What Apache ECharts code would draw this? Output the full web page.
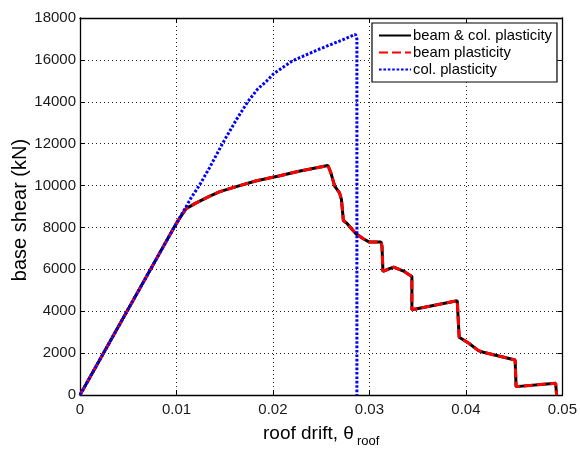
<!DOCTYPE html>
<html>
<head>
<meta charset="utf-8">
<script src="https://cdn.jsdelivr.net/npm/echarts@6/dist/echarts.min.js"></script>
<style>
  html, body { margin: 0; padding: 0; background: #fff; }
  #chart { width: 580px; height: 451px; }
</style>
</head>
<body>
<div id="chart"></div>
<script>
// Pushover curves: roof drift vs. base shear for three plasticity models
var seriesNames = ['beam & col. plasticity', 'beam plasticity', 'col. plasticity'];

var beamColDrift = [0, 0.0098, 0.0103, 0.0110, 0.0120, 0.0134, 0.0145, 0.0162, 0.0182, 0.0206, 0.0227, 0.0257,
  0.0260, 0.0264, 0.0269, 0.0271, 0.0273, 0.0277, 0.0286, 0.0294, 0.0300, 0.0312, 0.0313, 0.0314,
  0.0318, 0.0325, 0.0336, 0.0344, 0.0344, 0.0391, 0.0393, 0.0393, 0.0403, 0.0413, 0.0418, 0.0451,
  0.0452, 0.0452, 0.0493, 0.0494, 0.0494];
var beamColShear = [0, 8040, 8420, 8900, 9160, 9480, 9710, 9950, 10220, 10460, 10680, 10960,
  10610, 9970, 9650, 9330, 8330, 8180, 7700, 7450, 7300, 7300, 7100, 5900,
  5980, 6110, 5900, 5660, 4070, 4500, 4450, 2760, 2470, 2120, 2040, 1670,
  1600, 400, 560, 500, 0];

var beamDrift = [0, 0.0098, 0.0103, 0.0110, 0.0120, 0.0134, 0.0145, 0.0162, 0.0182, 0.0206, 0.0227, 0.0257,
  0.0260, 0.0264, 0.0269, 0.0271, 0.0273, 0.0277, 0.0286, 0.0294, 0.0300, 0.0312, 0.0313, 0.0314,
  0.0318, 0.0325, 0.0336, 0.0344, 0.0344, 0.0391, 0.0393, 0.0393, 0.0403, 0.0413, 0.0418, 0.0451,
  0.0452, 0.0452, 0.0493, 0.0494, 0.0494];
var beamShear = [0, 8040, 8420, 8900, 9160, 9480, 9710, 9950, 10220, 10460, 10680, 10960,
  10610, 9970, 9650, 9330, 8330, 8180, 7700, 7450, 7300, 7300, 7100, 5900,
  5980, 6110, 5900, 5660, 4070, 4500, 4450, 2760, 2470, 2120, 2040, 1670,
  1600, 400, 560, 500, 0];

var colDrift = [0, 0.0098, 0.0115, 0.0124, 0.0134, 0.0148, 0.0162, 0.0174, 0.0184, 0.0193, 0.0201,
  0.0220, 0.0248, 0.0269, 0.02855, 0.0287, 0.0287];
var colShear = [0, 8040, 9400, 10030, 10830, 12030, 13140, 14010, 14600, 14970, 15350,
  15950, 16510, 16900, 17220, 17000, 0];

var xTicks = [0, 0.01, 0.02, 0.03, 0.04, 0.05];
var yTicks = [0, 2000, 4000, 6000, 8000, 10000, 12000, 14000, 16000, 18000];

function pairs(xs, ys) {
  return xs.map(function (x, i) { return [x, ys[i]]; });
}

var FONT = 'Liberation Sans, Arial, sans-serif';
var chart = echarts.init(document.getElementById('chart'), null, { renderer: 'canvas' });

var gridTop = 18, gridBottom = 56, gridLeft = 80, gridRight = 16;

function baseAxis(extra) {
  var a = {
    type: 'value',
    axisLine: { show: true, onZero: false, lineStyle: { color: '#000', width: 1.3 } },
    axisTick: { show: true, inside: true, length: 5, lineStyle: { color: '#000', width: 1 } },
    splitLine: { show: false },
    axisLabel: { show: false }
  };
  for (var k in extra) a[k] = extra[k];
  return a;
}

var xMin = xTicks[0], xMax = xTicks[xTicks.length - 1], xInt = xTicks[1] - xTicks[0];
var yMin = yTicks[0], yMax = yTicks[yTicks.length - 1], yInt = yTicks[1] - yTicks[0];

chart.setOption({
  animation: false,
  backgroundColor: '#fff',
  grid: { left: gridLeft, right: gridRight, top: gridTop, bottom: gridBottom, containLabel: false },
  legend: {
    orient: 'vertical',
    left: 372,
    top: 23,
    padding: [5, 5, 5, 6],
    itemGap: 2,
    itemWidth: 32,
    itemHeight: 15,
    backgroundColor: '#fff',
    borderColor: '#000',
    borderWidth: 1.2,
    borderRadius: 0,
    itemStyle: { opacity: 0 },
    data: seriesNames,
    textStyle: { fontFamily: FONT, fontSize: 14.8, lineHeight: 15, color: '#000', padding: [0, 0, 0, -3] }
  },
  xAxis: [
    baseAxis({
      position: 'bottom',
      min: xMin, max: xMax, interval: xInt,
      axisLabel: {
        show: true, margin: 7, color: '#1a1a1a', fontFamily: FONT, fontSize: 15,
        formatter: function (v) { return v === 0 ? '0' : String(Math.round(v * 100) / 100); }
      },
      splitLine: { show: true, lineStyle: { color: '#222', width: 1, type: [1, 3] } }
    }),
    baseAxis({ position: 'top', min: xMin, max: xMax, interval: xInt })
  ],
  yAxis: [
    baseAxis({
      position: 'left',
      min: yMin, max: yMax, interval: yInt,
      axisLabel: {
        show: true, margin: 4, color: '#1a1a1a', fontFamily: FONT, fontSize: 15,
        formatter: function (v) { return String(v); }
      },
      splitLine: { show: true, lineStyle: { color: '#222', width: 1, type: [1, 3] } }
    }),
    baseAxis({ position: 'right', min: yMin, max: yMax, interval: yInt })
  ],
  graphic: [
    {
      type: 'text', x: 20, y: 210,
      rotation: Math.PI / 2,
      style: {
        text: 'base shear (kN)', fontFamily: FONT, fontSize: 20, fill: '#000',
        align: 'center', verticalAlign: 'middle'
      }
    },
    {
      type: 'text', x: 263, y: 424,
      style: { text: 'roof drift, \u03b8', fontFamily: FONT, fontSize: 19, fill: '#000' }
    },
    {
      type: 'text', x: 357, y: 435,
      style: { text: 'roof', fontFamily: FONT, fontSize: 13, fill: '#000' }
    }
  ],
  series: [
    {
      name: seriesNames[0], type: 'line', data: pairs(beamColDrift, beamColShear),
      showSymbol: false, symbol: 'none', z: 2,
      lineStyle: { color: '#000', width: 3, type: 'solid' },
      itemStyle: { color: '#000' }
    },
    {
      name: seriesNames[1], type: 'line', data: pairs(beamDrift, beamShear),
      showSymbol: false, symbol: 'none', z: 3,
      lineStyle: { color: '#ff0000', width: 3, type: [9, 4] },
      itemStyle: { color: '#ff0000' }
    },
    {
      name: seriesNames[2], type: 'line', data: pairs(colDrift, colShear),
      showSymbol: false, symbol: 'none', z: 4,
      lineStyle: { color: '#0000ff', width: 3, type: [2.6, 1.8] },
      itemStyle: { color: '#0000ff' }
    }
  ]
});
</script>
</body>
</html>
